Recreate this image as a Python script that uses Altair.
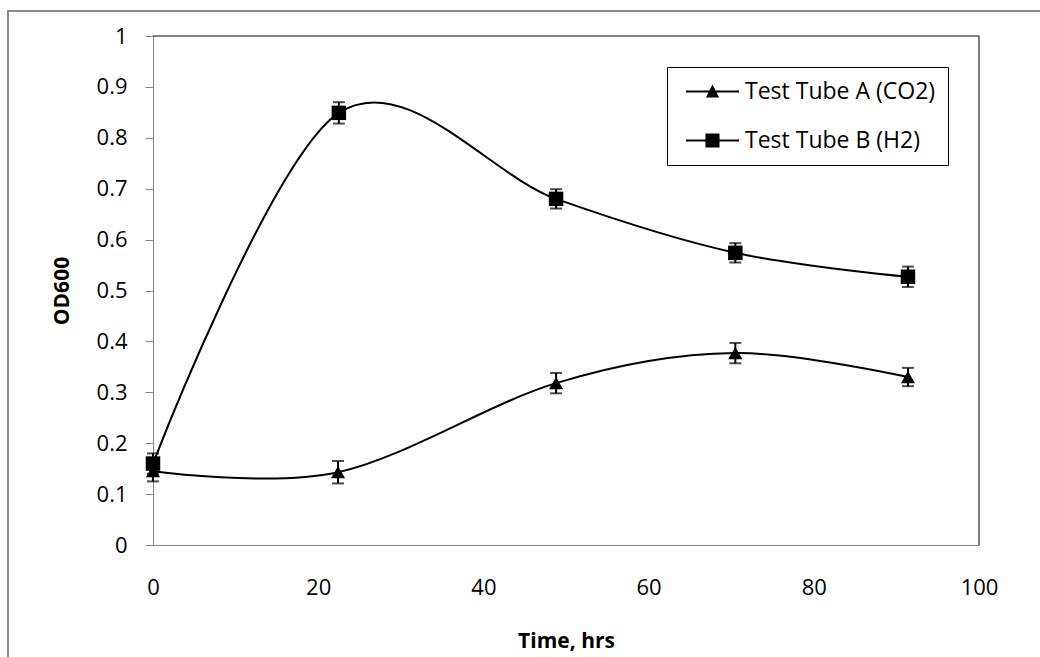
import altair as alt
import pandas as pd

# ---- data ----
series_names = ["Test Tube A (CO2)", "Test Tube B (H2)"]
time_a = [0, 22.4, 48.8, 70.5, 91.4]
od_a = [0.145, 0.143, 0.318, 0.377, 0.330]
err_a = [0.020, 0.022, 0.020, 0.020, 0.018]
time_b = [0, 22.5, 48.8, 70.5, 91.4]
od_b = [0.160, 0.849, 0.680, 0.574, 0.527]
err_b = [0.020, 0.021, 0.019, 0.019, 0.020]
x_ticks = [0, 20, 40, 60, 80, 100]
y_ticks = [0, 0.1, 0.2, 0.3, 0.4, 0.5, 0.6, 0.7, 0.8, 0.9, 1.0]

rows = []
for name, ts, vs, es in [(series_names[0], time_a, od_a, err_a),
                         (series_names[1], time_b, od_b, err_b)]:
    for t, v, e in zip(ts, vs, es):
        rows.append({"Series": name, "Time": t, "OD": v, "Lo": v - e, "Hi": v + e})
df = pd.DataFrame(rows)

W, H = 826, 509
FONT = "Open Sans"
AXIS_GRAY = "#868686"

x_scale = alt.Scale(domain=[0, 100], nice=False, zero=False)
y_scale = alt.Scale(domain=[0, 1], nice=False, zero=False)

x_axis = alt.Axis(values=x_ticks, ticks=False, tickSize=0, grid=False,
                  domainColor=AXIS_GRAY, domainWidth=1,
                  labelFont=FONT, labelFontSize=22, labelColor="black",
                  labelPadding=32, labelFlush=False, labelOverlap=False,
                  titleFont=FONT, titleFontSize=21, titleFontWeight="bold",
                  titleColor="black", titleX=413, titleY=85)
y_axis = alt.Axis(values=y_ticks, format=".1~f", tickSize=8, tickColor=AXIS_GRAY,
                  tickWidth=1, grid=False, domainColor=AXIS_GRAY, domainWidth=1,
                  labelFont=FONT, labelFontSize=22, labelColor="black",
                  labelPadding=18, labelFlush=False, labelOverlap=False,
                  titleFont=FONT, titleFontSize=21, titleFontWeight="bold",
                  titleColor="black", titleX=-81, titleY=H / 2)

X = alt.X("Time:Q", scale=x_scale, axis=x_axis, title="Time, hrs")
Y = alt.Y("OD:Q", scale=y_scale, axis=y_axis, title="OD600")

base = alt.Chart(df)

one = alt.Data(values=[{"k": 1}])

# outer chart frame (gray, left and top)
frame_left = alt.Chart(one).mark_rule(color="#8a8a8a", strokeWidth=2).encode(
    x=alt.value(-145), y=alt.value(-25), y2=alt.value(621))
frame_top = alt.Chart(one).mark_rule(color="#8a8a8a", strokeWidth=2).encode(
    x=alt.value(-146), x2=alt.value(887), y=alt.value(-25))

# plot area border (top and right)
border_top = alt.Chart(one).mark_rule(color="black", strokeWidth=1).encode(
    x=alt.value(0), x2=alt.value(W), y=alt.value(0))
border_right = alt.Chart(one).mark_rule(color="black", strokeWidth=1).encode(
    x=alt.value(W), y=alt.value(0), y2=alt.value(H))

lines = base.mark_line(interpolate="cardinal", color="black", strokeWidth=2).encode(
    x=X, y=Y, detail="Series:N")

err_rule = base.mark_rule(color="black", strokeWidth=2).encode(
    x=alt.X("Time:Q", scale=x_scale, title="Time, hrs"),
    y=alt.Y("Lo:Q", scale=y_scale, title="OD600"),
    y2="Hi:Q")
cap_lo = base.mark_tick(orient="horizontal", size=12, thickness=2, color="black").encode(
    x=alt.X("Time:Q", scale=x_scale, title="Time, hrs"),
    y=alt.Y("Lo:Q", scale=y_scale, title="OD600"))
cap_hi = base.mark_tick(orient="horizontal", size=12, thickness=2, color="black").encode(
    x=alt.X("Time:Q", scale=x_scale, title="Time, hrs"),
    y=alt.Y("Hi:Q", scale=y_scale, title="OD600"))

pts_a = base.transform_filter(alt.datum.Series == series_names[0]).mark_point(
    shape="triangle-up", filled=True, size=200, color="black", opacity=1).encode(x=X, y=Y)
pts_b = base.transform_filter(alt.datum.Series == series_names[1]).mark_point(
    shape="square", filled=True, size=210, color="black", opacity=1).encode(x=X, y=Y)

# legend symbols: a 2px line segment (filled thin rectangle) with the marker on it
path_a = "M-1,-0.038H1V0.038H-1ZM0,-0.26L0.25,0.23L-0.25,0.23Z"
path_b = "M-1,-0.038H1V0.038H-1ZM-0.265,-0.265H0.265V0.265H-0.265Z"

legend_layer = base.transform_filter("false").mark_point(
    filled=True, color="black", opacity=1).encode(
    shape=alt.Shape("Series:N",
                    scale=alt.Scale(domain=series_names, range=[path_a, path_b]),
                    legend=alt.Legend(title=None, orient="none", legendX=514, legendY=31,
                                      padding=12, strokeColor="black", fillColor="white",
                                      symbolSize=2809, symbolFillColor="black",
                                      symbolOpacity=1, symbolOffset=6, labelOffset=5,
                                      labelFont=FONT, labelFontSize=23, labelColor="black",
                                      labelLimit=400, clipHeight=25, rowPadding=24)))

chart = alt.layer(
    frame_left, frame_top, border_top, border_right,
    lines, err_rule, cap_lo, cap_hi, pts_a, pts_b, legend_layer
).properties(
    width=W, height=H,
    padding={"left": 153, "top": 36, "right": 61, "bottom": 112},
    autosize=alt.AutoSizeParams(type="none"),
    background="white",
).configure_view(stroke=None)

chart.save("out.html", embed_options={"renderer": "svg", "actions": False})
